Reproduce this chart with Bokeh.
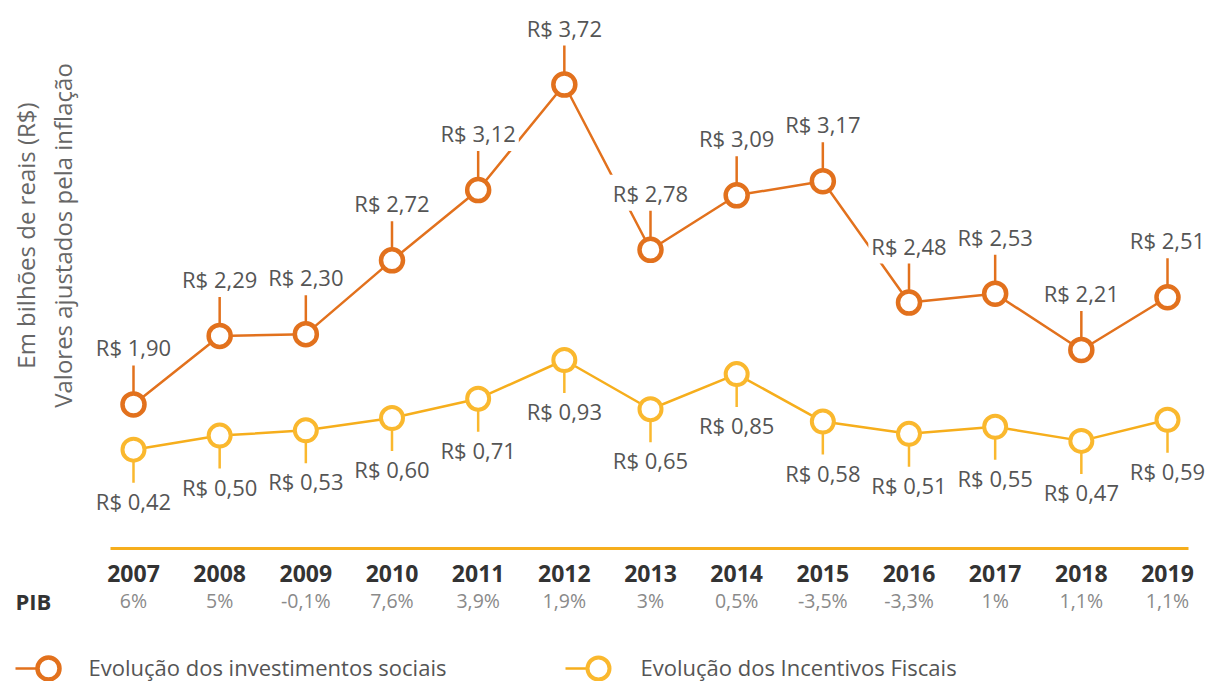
from bokeh.plotting import figure
from bokeh.models import Range1d
from bokeh.embed import file_html
from bokeh.resources import INLINE
from bokeh.core.properties import value

years = [2007, 2008, 2009, 2010, 2011, 2012, 2013, 2014, 2015, 2016, 2017, 2018, 2019]
investimentos = [1.90, 2.29, 2.30, 2.72, 3.12, 3.72, 2.78, 3.09, 3.17, 2.48, 2.53, 2.21, 2.51]
incentivos = [0.42, 0.50, 0.53, 0.60, 0.71, 0.93, 0.65, 0.85, 0.58, 0.51, 0.55, 0.47, 0.59]
pib = ["6%", "5%", "-0,1%", "7,6%", "3,9%", "1,9%", "3%", "0,5%", "-3,5%", "-3,3%", "1%", "1,1%", "1,1%"]
ylabel = "Em bilhões de reais (R$)\nValores ajustados pela inflação"
legend_inv = "Evolução dos investimentos sociais"
legend_inc = "Evolução dos Incentivos Fiscais"

W, H = 1207, 681
ORANGE = "#E2711D"
YELLOW = "#F6AE1C"
YELLOW_M = "#FAB82E"
FONT = "Open Sans"

def fmt(v):
    return "R$ " + f"{v:.2f}".replace(".", ",")

Y0, Y1 = 0.3242, 4.1980
I0, I1 = -0.8987, 2.9750

p = figure(width=W, height=H, output_backend="svg", toolbar_location=None,
           x_range=Range1d(2005.4565, 2019.4642), y_range=Range1d(Y0, Y1),
           x_axis_type=None, y_axis_type=None, min_border=0,
           outline_line_color=None, background_fill_color="white")
p.grid.visible = False
p.extra_y_ranges = {"inc": Range1d(I0, I1), "px": Range1d(H, 0)}
p.extra_x_ranges = {"px": Range1d(0, W)}

upp_o = (Y1 - Y0) / H
upp_y = (I1 - I0) / H

# lines
p.line(years, investimentos, line_color=ORANGE, line_width=2.5)
p.line(years, incentivos, line_color=YELLOW, line_width=2.5, y_range_name="inc")

# leader lines
p.segment(x0=years, y0=investimentos, x1=years, y1=[v + 40 * upp_o for v in investimentos],
          line_color=ORANGE, line_width=2.5)
p.segment(x0=years, y0=incentivos, x1=years, y1=[v - 36 * upp_y for v in incentivos],
          line_color=YELLOW_M, line_width=2.5, y_range_name="inc")

# value labels
p.text(x=years, y=[v + 57 * upp_o for v in investimentos], text=[fmt(v) for v in investimentos],
       text_font=value(FONT), text_font_size="22px", text_color="#555555",
       text_align="center", text_baseline="middle",
       background_fill_color="white", padding=3)
p.text(x=years, y=[v - 51 * upp_y for v in incentivos], text=[fmt(v) for v in incentivos],
       text_font=value(FONT), text_font_size="22px", text_color="#555555",
       text_align="center", text_baseline="middle", y_range_name="inc",
       background_fill_color="white", padding=3)

# markers
p.scatter(years, investimentos, size=22, line_width=4.5, line_color=ORANGE, fill_color="white")
p.scatter(years, incentivos, size=22, line_width=4, line_color=YELLOW_M, fill_color="white",
          y_range_name="inc")

# bottom axis line
p.segment(x0=[110], y0=[548], x1=[1188], y1=[548], line_color=YELLOW, line_width=3,
          x_range_name="px", y_range_name="px")

# year labels and PIB
p.text(x=years, y=[573] * len(years), text=[str(y) for y in years], y_range_name="px",
       text_font=value(FONT), text_font_size="23px", text_font_style="bold",
       text_color="#333333", text_align="center", text_baseline="middle")
p.text(x=years, y=[600] * len(years), text=pib, y_range_name="px",
       text_font=value(FONT), text_font_size="19.5px", text_color="#8a8a8a",
       text_align="center", text_baseline="middle")
p.text(x=[15], y=[600], text=["PIB"], x_range_name="px", y_range_name="px",
       text_font=value(FONT), text_font_size="22px", text_font_style="bold",
       text_color="#333333", text_align="left", text_baseline="middle")

# y label
p.text(x=[43.5], y=[235], text=[ylabel], x_range_name="px", y_range_name="px", angle=1.5708,
       text_font=value(FONT), text_font_size="24px", text_color="#666666",
       text_align="center", text_baseline="middle", text_line_height=1.1)

# legend
p.line([15, 48], [668, 668], line_color=ORANGE, line_width=2.5, x_range_name="px", y_range_name="px")
p.scatter([48], [668], size=22, line_width=4.5, line_color=ORANGE, fill_color="white",
          x_range_name="px", y_range_name="px")
p.text(x=[88], y=[666], text=[legend_inv], x_range_name="px", y_range_name="px",
       text_font=value(FONT), text_font_size="22px", text_color="#555555",
       text_align="left", text_baseline="middle")
p.line([565, 598], [668, 668], line_color=YELLOW, line_width=2.5, x_range_name="px", y_range_name="px")
p.scatter([598], [668], size=22, line_width=4, line_color=YELLOW_M, fill_color="white",
          x_range_name="px", y_range_name="px")
p.text(x=[640], y=[666], text=[legend_inc], x_range_name="px", y_range_name="px",
       text_font=value(FONT), text_font_size="22px", text_color="#555555",
       text_align="left", text_baseline="middle")

open("out.html", "w").write(file_html(p, INLINE))
